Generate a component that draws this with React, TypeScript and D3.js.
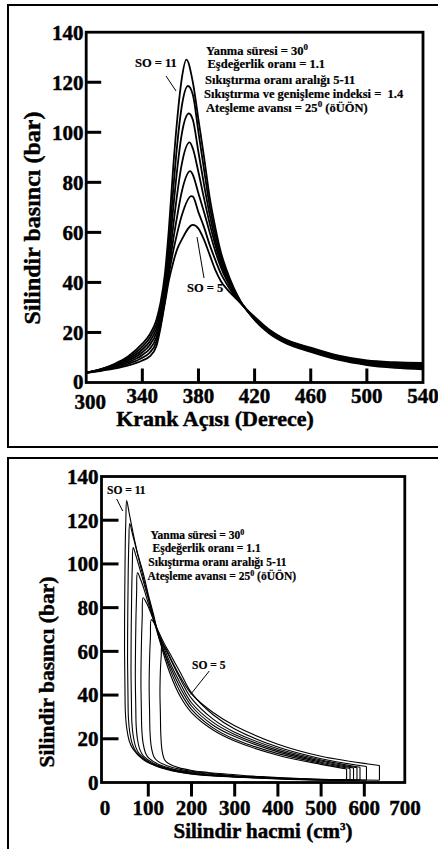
import React from "react";
import * as d3 from "d3";

// ---------- Top chart data: cylinder pressure vs crank angle ----------
const SO_LIST = [5, 6, 7, 8, 9, 10, 11];
const ANGLE_RISE = [300, 310, 320, 330, 340, 345, 350, 353, 356, 359, 362, 365, 368];
const ANGLE_FALL = [376, 380, 384, 388, 392, 396, 400, 405, 410, 415, 420, 430, 440, 460, 480, 500, 520, 540];
const PEAK_ANGLE = [376, 375, 374.2, 373.7, 373.2, 372.5, 371.4];
const PEAK_P = [63, 74.5, 84.5, 96, 107.5, 118.5, 129];
const RISE_P = [
  [3.9, 4.6, 5.5, 6.8, 8.8, 10.3, 14.5, 22.0, 31.5, 41.0, 48.0, 53.5, 57.0],
  [3.9, 4.8, 5.9, 7.5, 9.9, 11.8, 16.3, 23.0, 32.5, 43.5, 52.5, 60.0, 66.5],
  [3.9, 4.9, 6.2, 8.1, 11.0, 13.3, 18.0, 24.3, 33.5, 45.5, 57.0, 67.0, 76.0],
  [3.9, 5.0, 6.5, 8.7, 12.1, 14.8, 19.8, 25.8, 35.0, 48.0, 62.5, 76.0, 87.0],
  [3.9, 5.1, 6.8, 9.3, 13.2, 16.2, 21.5, 27.5, 37.0, 51.5, 69.5, 86.0, 99.0],
  [3.9, 5.2, 7.1, 9.9, 14.3, 17.6, 23.2, 29.5, 39.5, 56.0, 77.0, 96.0, 110.0],
  [3.9, 5.3, 7.4, 10.5, 15.5, 19.0, 25.0, 32.0, 43.0, 62.0, 86.0, 106.0, 121.0],
];
const FALL_P = [
  [63, 61.5, 57, 51, 45, 40.5, 37.5, 34.5, 31.8, 28.8, 26.2, 21.3, 17.8, 13.9, 10.7, 8.8, 8.1, 7.8],
  [74.3, 68, 62, 55, 49, 43.5, 39.5, 35.2, 31.8, 28.7, 26, 21.1, 17.6, 13.6, 10.4, 8.5, 7.7, 7.3],
  [83, 75.5, 68, 60, 52.5, 46, 41, 36, 31.9, 28.7, 25.8, 20.9, 17.4, 13.4, 10.2, 8.2, 7.3, 6.9],
  [93.5, 84, 73.5, 63.5, 55, 47.5, 42, 36.5, 32, 28.6, 25.6, 20.7, 17.2, 13.1, 9.9, 7.9, 7.0, 6.5],
  [105, 92, 79, 67, 57, 49, 43, 37, 32.2, 28.6, 25.4, 20.4, 16.9, 12.8, 9.6, 7.6, 6.6, 6.1],
  [115, 100, 85, 70.5, 59.5, 50.5, 44, 37.5, 32.4, 28.5, 25.2, 20.1, 16.6, 12.5, 9.3, 7.3, 6.3, 5.7],
  [120, 105, 90, 74, 62, 52, 45, 38, 32.5, 28.5, 25, 19.8, 16.3, 12.2, 9.0, 7.0, 5.9, 5.3],
];
const TOP_X_TICKS = [300, 340, 380, 420, 460, 500, 540];
const Y_TICKS = [0, 20, 40, 60, 80, 100, 120, 140];

// ---------- Bottom chart data: pressure vs cylinder volume (loops) ----------
const PV_LOOPS: [number, number][][] = [
  // SO = 5
  [[635, 1.0], [520, 1.4], [440, 1.9], [370, 2.6], [320, 3.2], [280, 3.9], [238, 4.6], [201, 5.5], [170, 6.8], [146, 8.8], [138, 10.3], [132, 14.5], [129, 22], [128, 31.5], [127, 41], [127.5, 48], [128.5, 53.5], [130, 58], [132, 63], [140, 61.5], [150, 57.5], [175, 48], [200, 40.5], [250, 32], [300, 26], [400, 17.5], [500, 12], [635, 7.8]],
  // SO = 6
  [[605, 1.0], [500, 1.4], [420, 1.9], [350, 2.6], [300, 3.1], [255, 3.9], [213, 4.8], [176, 5.9], [145, 7.5], [121, 9.9], [113, 11.8], [107, 16.3], [104, 23], [103, 32.5], [102, 43.5], [102.5, 52.5], [103.5, 60], [105, 66.5], [107, 74.5], [115, 72.5], [125, 68.5], [137, 63.5], [150, 59], [175, 50], [200, 41], [250, 31], [300, 24.5], [400, 16.2], [500, 10.9], [605, 7.3]],
  // SO = 7
  [[590, 1.0], [480, 1.4], [400, 2.0], [330, 2.7], [280, 3.2], [236, 3.9], [194, 4.9], [157, 6.2], [126, 8.1], [102, 11], [94, 13.3], [88, 18], [85, 24.3], [84, 33.5], [83, 45.5], [83.5, 57], [84.5, 67], [86, 76], [88, 84.5], [95, 82.5], [105, 78], [115, 72.5], [125, 67.5], [150, 57], [175, 47], [200, 38.5], [250, 29], [300, 23], [400, 15.4], [500, 10.3], [590, 7.0]],
  // SO = 8
  [[583, 1.0], [480, 1.35], [400, 1.9], [330, 2.5], [270, 3.1], [223, 3.9], [181, 5.0], [144, 6.5], [113, 8.7], [89, 12.1], [81, 14.8], [75, 19.8], [72, 25.8], [71, 35], [70, 48], [70.5, 62.5], [71.5, 76], [73, 87], [75, 96], [82, 93], [90, 88.5], [100, 82], [112, 75], [125, 67.5], [150, 55], [175, 45], [200, 36.5], [250, 27.5], [300, 22], [400, 14.7], [500, 9.8], [583, 6.8]],
  // SO = 9
  [[575, 1.0], [480, 1.3], [400, 1.8], [320, 2.5], [260, 3.1], [213, 3.9], [171, 5.1], [134, 6.8], [103, 9.3], [79, 13.2], [71, 16.2], [65, 21.5], [62, 27.5], [61, 37], [60, 51.5], [60.5, 69.5], [61.5, 86], [63, 99], [65, 107.5], [71, 104], [80, 98], [90, 91], [100, 84], [112, 75], [125, 66], [150, 53.5], [175, 43], [200, 35], [250, 26.2], [300, 21], [400, 14], [500, 9.3], [575, 6.6]],
  // SO = 10
  [[567, 1.0], [480, 1.25], [400, 1.7], [320, 2.4], [250, 3.1], [205, 3.9], [163, 5.2], [126, 7.1], [95, 9.9], [71, 14.3], [63, 17.6], [57, 23.2], [54, 29.5], [53, 39.5], [52, 56], [52.5, 77], [53.5, 96], [55, 110], [57, 118.5], [63, 114], [72, 107], [82, 99], [92, 91], [104, 82], [116, 73], [128, 65], [150, 52], [175, 41], [200, 33.5], [250, 25], [300, 19.8], [400, 13.2], [500, 8.8], [567, 6.4]],
  // SO = 11
  [[559, 1.0], [480, 1.2], [400, 1.6], [320, 2.3], [250, 3.0], [198, 3.9], [156, 5.3], [119, 7.4], [88, 10.5], [64, 15.5], [56, 19], [50, 25], [47, 32], [46, 43], [45, 62], [45.5, 86], [46.5, 106], [48, 120], [50, 129], [56, 123], [65, 114], [75, 105], [88, 96], [100, 86], [112, 77], [125, 66], [150, 50], [175, 39], [200, 32], [250, 24], [300, 19], [400, 12.5], [500, 8.3], [559, 6.2]],
];
const BOTTOM_X_TICKS = [0, 100, 200, 300, 400, 500, 600, 700];

const FONT = "'Liberation Serif', 'Times New Roman', serif";

export default function App() {
  // top scales
  const xT = d3.scaleLinear().domain([300, 540]).range([86.2, 423]);
  const yT = d3.scaleLinear().domain([0, 140]).range([382.5, 32.2]);
  // bottom scales
  const xB = d3.scaleLinear().domain([-8.3, 693.7]).range([101.5, 404.8]);
  const yB = d3.scaleLinear().domain([0, 140]).range([782.5, 476.5]);

  const topLine = d3
    .line<[number, number]>()
    .x((d) => xT(d[0]))
    .y((d) => yT(d[1]))
    .curve(d3.curveMonotoneX);

  const topCurves = SO_LIST.map((so, i) => {
    const pts: [number, number][] = [];
    ANGLE_RISE.forEach((a, j) => {
      if (a < PEAK_ANGLE[i]) pts.push([a, RISE_P[i][j]]);
    });
    pts.push([PEAK_ANGLE[i], PEAK_P[i]]);
    ANGLE_FALL.forEach((a, j) => {
      if (a > PEAK_ANGLE[i]) pts.push([a, FALL_P[i][j]]);
    });
    return { so, d: topLine(pts) || "" };
  });

  const pvLine = d3
    .line<[number, number]>()
    .x((d) => xB(d[0]))
    .y((d) => yB(d[1]))
    .curve(d3.curveCatmullRom.alpha(0.5));
  const pvStraight = d3
    .line<[number, number]>()
    .x((d) => xB(d[0]))
    .y((d) => yB(d[1]));

  const bold = { fontFamily: FONT, fontWeight: 700 as const, fill: "#000" };
  const heavy = { ...bold, stroke: "#000", strokeWidth: 0.45 };
  const ann = { ...bold, stroke: "#000", strokeWidth: 0.2 };

  return (
    <svg
      width={438}
      height={849}
      style={{ position: "absolute", left: 0, top: 0, background: "#fff" }}
    >
      <rect x={0} y={0} width={438} height={849} fill="#fff" />
      {/* outer panel boxes */}
      <rect x={8} y={5} width={440} height={442} fill="none" stroke="#000" strokeWidth={2} />
      <rect x={8} y={458} width={440} height={420} fill="none" stroke="#000" strokeWidth={2} />

      {/* ================= TOP CHART ================= */}
      <g>
        {topCurves.map((c) => (
          <path key={c.so} d={c.d} fill="none" stroke="#000" strokeWidth={1.8} />
        ))}
        {/* frame */}
        <rect
          x={xT(300)}
          y={yT(140)}
          width={xT(540) - xT(300)}
          height={yT(0) - yT(140)}
          fill="none"
          stroke="#000"
          strokeWidth={2.8}
        />
        {/* y ticks (inward) */}
        {Y_TICKS.filter((t) => t > 0 && t < 140).map((t) => (
          <line key={t} x1={xT(300)} x2={xT(300) + 15} y1={yT(t)} y2={yT(t)} stroke="#000" strokeWidth={3} />
        ))}
        {TOP_X_TICKS.filter((t) => t > 300 && t < 540).map((t) => (
          <line key={t} x1={xT(t)} x2={xT(t)} y1={yT(0)} y2={yT(0) - 14} stroke="#000" strokeWidth={3} />
        ))}
        {Y_TICKS.map((t) => (
          <text key={t} x={83.5} y={yT(t)} dy={t === 0 ? "0.3em" : "0.35em"} textAnchor="end" fontSize={21} {...heavy}>
            {t}
          </text>
        ))}
        {TOP_X_TICKS.map((t) => (
          <text
            key={t}
            x={t === 300 ? xT(t) + 4 : xT(t)}
            y={t === 300 ? 409 : 403}
            textAnchor="middle"
            fontSize={21}
            {...heavy}
          >
            {t}
          </text>
        ))}
        <text x={215} y={426} textAnchor="middle" fontSize={22} {...heavy}>
          Krank Açısı (Derece)
        </text>
        <text
          transform="translate(40,218) rotate(-90)"
          textAnchor="middle"
          fontSize={24}
          {...heavy}
        >
          Silindir basıncı (bar)
        </text>
        {/* annotations */}
        <g fontSize={12.5} {...ann}>
          <text x={206} y={55}>
            Yanma süresi = 30<tspan dy={-5} fontSize={9}>0</tspan>
          </text>
          <text x={207.5} y={68}>Eşdeğerlik oranı = 1.1</text>
          <text x={205} y={84}>Sıkıştırma oranı aralığı 5-11</text>
          <text x={204} y={97.5} xmlSpace="preserve">Sıkıştırma ve genişleme indeksi =  1.4</text>
          <text x={206} y={112}>
            Ateşleme avansı = 25<tspan dy={-5} fontSize={9}>0</tspan>
            <tspan dy={5}> (öÜÖN)</tspan>
          </text>
          <text x={135} y={67}>SO = 11</text>
          <text x={187} y={292}>SO = 5</text>
        </g>
        <line x1={166} y1={76} x2={176} y2={91} stroke="#000" strokeWidth={1} />
        <line x1={197} y1={237} x2={204} y2={278} stroke="#000" strokeWidth={1} />
      </g>

      {/* ================= BOTTOM CHART ================= */}
      <g>
        {PV_LOOPS.map((loop, i) => (
          <g key={i}>
            <path d={pvLine(loop) || ""} fill="none" stroke="#000" strokeWidth={1.1} />
            <path
              d={pvStraight([loop[loop.length - 1], loop[0]]) || ""}
              fill="none"
              stroke="#000"
              strokeWidth={1.1}
            />
          </g>
        ))}
        <rect
          x={xB(-8.3)}
          y={yB(140)}
          width={xB(693.7) - xB(-8.3)}
          height={yB(0) - yB(140)}
          fill="none"
          stroke="#000"
          strokeWidth={2.8}
        />
        {Y_TICKS.filter((t) => t > 0 && t < 140).map((t) => (
          <line key={t} x1={xB(-8.3)} x2={xB(-8.3) + 17} y1={yB(t)} y2={yB(t)} stroke="#000" strokeWidth={3} />
        ))}
        {BOTTOM_X_TICKS.filter((t) => t > 0 && t < 700).map((t) => (
          <line key={t} x1={xB(t)} x2={xB(t)} y1={yB(0)} y2={yB(0) + 14} stroke="#000" strokeWidth={3} />
        ))}
        {Y_TICKS.map((t) => (
          <text key={t} x={98.5} y={yB(t)} dy="0.35em" textAnchor="end" fontSize={21} {...heavy}>
            {t}
          </text>
        ))}
        {BOTTOM_X_TICKS.map((t) => (
          <text key={t} x={Math.min(xB(t), 405)} y={815} textAnchor="middle" fontSize={21} {...heavy}>
            {t}
          </text>
        ))}
        <text x={263} y={838} textAnchor="middle" fontSize={21} {...heavy}>
          Silindir hacmi (cm<tspan dy={-8} fontSize={11}>3</tspan>
          <tspan dy={8}>)</tspan>
        </text>
        <text
          transform="translate(54,672) rotate(-90)"
          textAnchor="middle"
          fontSize={21.5}
          {...heavy}
        >
          Silindir basıncı (bar)
        </text>
        <g fontSize={11.5} {...ann}>
          <text x={150.5} y={539}>
            Yanma süresi = 30<tspan dy={-4.5} fontSize={8}>0</tspan>
          </text>
          <text x={152.5} y={551.5}>Eşdeğerlik oranı = 1.1</text>
          <text x={148.3} y={566}>Sıkıştırma oranı aralığı 5-11</text>
          <text x={147.5} y={580}>
            Ateşleme avansı = 25<tspan dy={-4.5} fontSize={8}>0</tspan>
            <tspan dy={4.5}> (öÜÖN)</tspan>
          </text>
          <text x={107} y={494}>SO = 11</text>
          <text x={192} y={669}>SO = 5</text>
        </g>
        <line x1={116.7} y1={499} x2={122.7} y2={511} stroke="#000" strokeWidth={1} />
        <line x1={209.3} y1={671} x2={190.7} y2={694.3} stroke="#000" strokeWidth={1} />
      </g>
    </svg>
  );
}
